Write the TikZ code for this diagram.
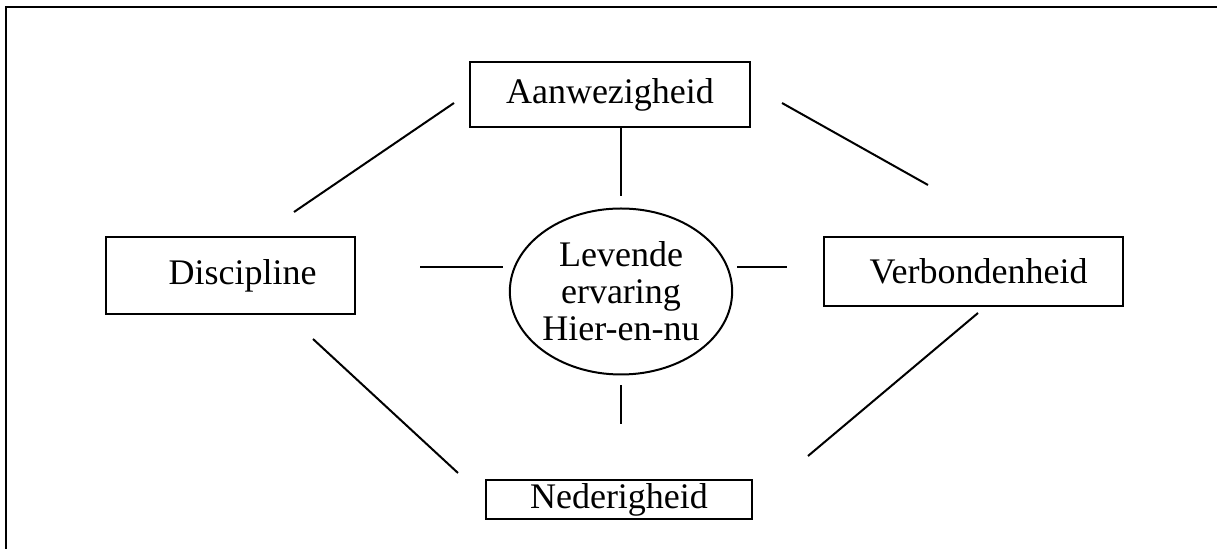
\documentclass[tikz,border=0pt]{standalone}
\usepackage{tikz}
\usepackage{fontspec}
\setmainfont{Liberation Serif}
\usetikzlibrary{calc,shapes}

\begin{document}
\begin{tikzpicture}[x=0.5pt, y=-0.5pt, line width=1pt]
			\tikzstyle{every node}=[draw, shape=rectangle, align=center, inner sep=0pt, font=\fontsize{18}{18.5}\selectfont];
			\useasboundingbox (0,0) rectangle (1217,549);
			\draw [line width=1.2pt] (6,549) -- (6,7) -- (1217,7);
			\node (aanw) [minimum width=140pt, minimum height=32.5pt] at (610, 94.5) {Aanwezigheid};
			\node (disc) [minimum width=124.5pt, minimum height=38.5pt] at (230.5, 275.5) {\hspace{12pt}Discipline};
			\node (verb) [minimum width=149.5pt, minimum height=34.5pt] at (973.5, 271.5) {\hspace{5pt}Verbondenheid};
			\node (nede) [minimum width=133pt, minimum height=19.5pt] at (619, 500) {Nederigheid};
			\node (lev) [shape=ellipse, minimum width=108pt, minimum height=83pt] at (621, 291.5) {Levende\\ervaring\\Hier-en-nu};
			% loose ends of the diagonals
			\coordinate (tl1) at (294, 212);
			\coordinate (tl2) at (454, 103);
			\coordinate (tr1) at (782, 103);
			\coordinate (tr2) at (928, 185);
			\coordinate (bl1) at (313, 339);
			\coordinate (bl2) at (458, 473);
			\coordinate (br1) at (978, 313);
			\coordinate (br2) at (808, 456);
			\coordinate (ml1) at (420, 267);
			\coordinate (ml2) at (503, 267);
			\coordinate (mr1) at (737, 267);
			\coordinate (mr2) at (787, 267);
			\draw (lev.north |- aanw.south) -- ([yshift=5.5pt]lev.north);
			\draw ([yshift=-5pt]lev.south) -- ([yshift=27.5pt]lev.south |- nede.north);
			\draw (tl1) -- (tl2);
			\draw (tr1) -- (tr2);
			\draw (bl1) -- (bl2);
			\draw (br1) -- (br2);
			\draw (ml1) -- (ml2);
			\draw (mr1) -- (mr2);
		\end{tikzpicture}
\end{document}
